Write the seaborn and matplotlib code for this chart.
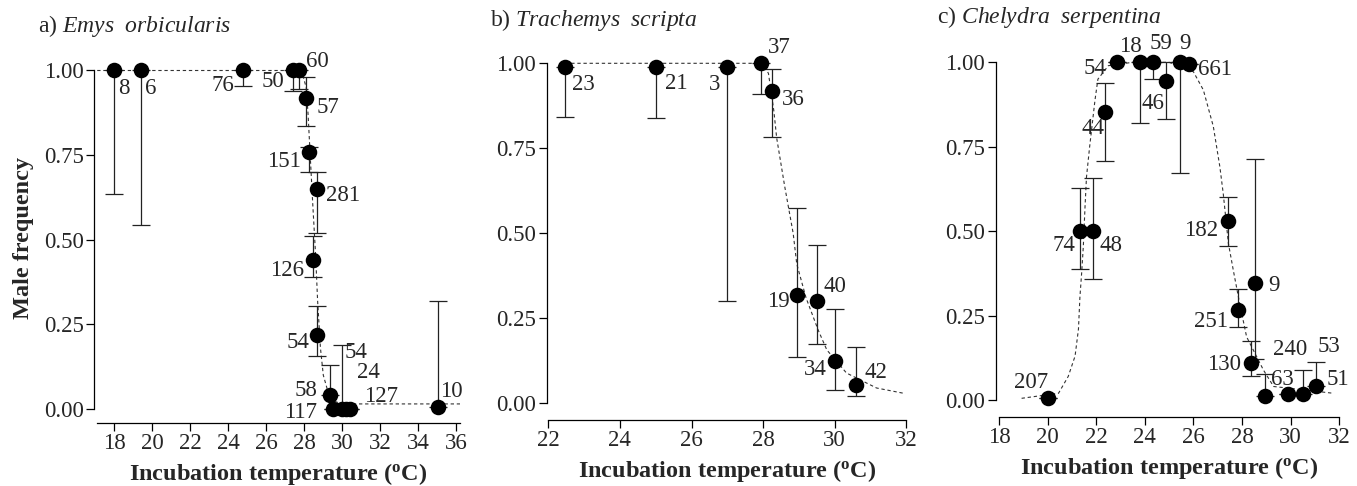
import matplotlib
matplotlib.use('Agg')
import matplotlib.pyplot as plt
import pandas as pd
import seaborn as sns

# ---- values ----
# a) Emys orbicularis
a_labels = ['8', '6', '76', '50', '60', '57', '151', '281', '126', '54', '58', '117', '54', '24', '127', '10']
a_temp = [18.0, 19.4, 24.8, 27.4, 27.7, 28.1, 28.25, 28.65, 28.45, 28.65, 29.35, 29.5, 30.0, 30.2, 30.4, 35.05]
a_freq = [1.0, 1.0, 1.0, 1.0, 1.0, 0.92, 0.76, 0.65, 0.44, 0.22, 0.04, 0.0, 0.0, 0.0, 0.0, 0.005]
a_low = [0.635, 0.545, 0.955, 0.94, 0.945, 0.835, 0.70, 0.52, 0.39, 0.157, 0.04, 0.0, 0.0, 0.0, 0.0, 0.005]
a_high = [1.0, 1.0, 1.0, 1.0, 1.0, 0.98, 0.775, 0.70, 0.51, 0.305, 0.13, 0.0, 0.19, 0.0, 0.0, 0.32]
a_curve_t = [17.1, 27.6, 27.9, 28.1, 28.2, 28.3, 28.45, 28.6, 28.7, 28.85, 29.0, 29.3, 29.7, 30.5, 36.2]
a_curve_f = [1.0, 1.0, 0.99, 0.95, 0.87, 0.76, 0.6, 0.45, 0.32, 0.18, 0.1, 0.04, 0.02, 0.015, 0.015]

# b) Trachemys scripta
b_labels = ['23', '21', '3', '37', '36', '19', '40', '34', '42']
b_temp = [22.47, 25.0, 27.0, 27.94, 28.24, 28.96, 29.5, 30.02, 30.6]
b_freq = [0.99, 0.99, 0.99, 1.0, 0.92, 0.32, 0.30, 0.125, 0.054]
b_low = [0.843, 0.838, 0.30, 0.91, 0.784, 0.135, 0.174, 0.039, 0.022]
b_high = [0.99, 0.99, 0.99, 1.0, 0.983, 0.574, 0.466, 0.277, 0.167]
b_curve_t = [22.47, 28.0, 28.15, 28.3, 28.38, 28.6, 28.84, 28.94, 29.2, 29.54, 29.78, 30.33, 31.17, 31.9]
b_curve_f = [1.0, 1.0, 0.97, 0.86, 0.78, 0.64, 0.5, 0.41, 0.31, 0.215, 0.157, 0.089, 0.045, 0.03]

# c) Chelydra serpentina
c_labels = ['207', '74', '48', '44', '54', '18', '59', '46', '9', '661', '182', '251', '9', '130', '63', '240', '53', '51']
c_temp = [20.0, 21.33, 21.88, 22.36, 22.84, 23.8, 24.35, 24.86, 25.45, 25.83, 27.41, 27.85, 28.54, 28.36, 28.95, 29.9, 30.5, 31.05]
c_freq = [0.007, 0.5, 0.5, 0.854, 1.0, 1.0, 1.0, 0.945, 1.0, 0.995, 0.53, 0.267, 0.345, 0.111, 0.013, 0.018, 0.018, 0.04]
c_low = [0.007, 0.387, 0.357, 0.708, 1.0, 0.82, 0.95, 0.832, 0.673, 0.995, 0.457, 0.217, 0.12, 0.07, 0.013, 0.018, 0.018, 0.04]
c_high = [0.007, 0.627, 0.656, 0.94, 1.0, 1.0, 1.0, 1.0, 1.0, 0.995, 0.602, 0.328, 0.714, 0.176, 0.078, 0.018, 0.09, 0.114]
c_curve_t = [18.93, 20.45, 20.85, 21.13, 21.27, 21.33, 21.4, 21.47, 21.54, 21.6, 21.73, 21.95, 22.07, 22.5,
             23.5, 25.0, 26.0, 26.41, 26.82, 27.09, 27.23, 27.44, 27.64, 27.9, 28.19, 28.88, 29.3, 31.75]
c_curve_f = [0.005, 0.02, 0.07, 0.13, 0.21, 0.305, 0.375, 0.455, 0.572, 0.66, 0.75, 0.888, 0.95, 0.99,
             1.0, 1.0, 0.972, 0.918, 0.81, 0.69, 0.61, 0.464, 0.385, 0.287, 0.187, 0.089, 0.04, 0.02]

# label placement: (ha, dx px, dy px down) relative to the point
a_offs = [('left', 4, 18), ('left', 4, 18), ('right', -9, 15), ('right', -9, 11), ('left', 7, -9),
          ('left', 10, 10), ('right', -8, 10), ('left', 9, 7), ('right', -9, 10), ('right', -7, 8),
          ('right', -13, -5), ('right', -16, 4), ('left', 2, -57), ('left', 11, -36), ('left', 14, -13),
          ('left', 2, -16)]
b_offs = [('left', 7, 18), ('left', 9, 17), ('right', -7, 18), ('left', 7, -16), ('left', 10, 9),
          ('right', -8, 7), ('left', 7, -15), ('right', -9, 9), ('left', 8, -12)]
c_offs = [('center', -17, -15), ('right', -5, 14), ('left', 6, 14), ('center', -12, 17), ('right', -10, 6),
          ('center', -10, -16), ('center', 8, -19), ('center', -13, 23), ('center', 5, -19), ('left', 9, 6),
          ('right', -9, 9), ('right', -10, 12), ('left', 13, 2), ('right', -10, 2), ('center', 17, -16),
          ('center', 2, -44), ('center', 26, -47), ('left', 10, -7)]

sns.set_style('ticks')
plt.rcParams['font.family'] = ['Liberation Serif', 'DejaVu Serif']
plt.rcParams['mathtext.fontset'] = 'custom'
plt.rcParams['mathtext.rm'] = 'Liberation Serif'
plt.rcParams['mathtext.it'] = 'Liberation Serif:italic'
plt.rcParams['mathtext.bf'] = 'Liberation Serif:bold'

W, H = 1357, 486
fig = plt.figure(figsize=(W / 100, H / 100), dpi=100)
YLIM = (-0.03, 1.04)


def make_axes(x0, x1, y1, y0):
    # x0/x1: pixel of the x limits ; y1/y0: pixel of 1.00 / 0.00
    ppu = (y0 - y1)
    top = y1 - (YLIM[1] - 1) * ppu
    bot = y0 - YLIM[0] * ppu
    return fig.add_axes([x0 / W, (H - bot) / H, (x1 - x0) / W, (bot - top) / H])


def draw_panel(ax, temp, freq, low, high, labels, offs, ct, cf, xlim, xticks, out_l, out_b):
    df = pd.DataFrame({'temp': temp, 'freq': freq, 'low': low, 'high': high})
    curve = pd.DataFrame({'temp': ct, 'freq': cf})
    sns.lineplot(data=curve, x='temp', y='freq', ax=ax, sort=False, estimator=None,
                 color='#333333', lw=0.8, linestyle=(0, (3, 2.5)), zorder=1)
    ax.errorbar(df['temp'], df['freq'], yerr=[df['freq'] - df['low'], df['high'] - df['freq']],
                fmt='none', ecolor='#222222', elinewidth=0.9, capsize=6.5, capthick=0.9, zorder=2)
    sns.scatterplot(data=df, x='temp', y='freq', ax=ax, s=125, color='black',
                    edgecolor='black', linewidth=0, zorder=3, clip_on=False)
    for t, f, lab, (ha, dx, dy) in zip(temp, freq, labels, offs):
        ax.annotate(lab, (t, f), xytext=(dx * 0.72, -dy * 0.72), textcoords='offset points',
                    ha=ha, va='center', fontsize=16.5)
    ax.set_xlim(*xlim)
    ax.set_ylim(*YLIM)
    ax.set_xticks(xticks)
    ax.set_yticks([0, 0.25, 0.5, 0.75, 1.0])
    ax.set_yticklabels(['0.00', '0.25', '0.50', '0.75', '1.00'])
    ax.tick_params(direction='out', length=5.5, width=0.9, labelsize=16.5, pad=2, color='black')
    for s in ['top', 'right']:
        ax.spines[s].set_visible(False)
    ax.spines['left'].set_position(('outward', out_l))
    ax.spines['bottom'].set_position(('outward', out_b))
    ax.spines['left'].set_bounds(0, 1)
    for s in ['left', 'bottom']:
        ax.spines[s].set_linewidth(0.9)
        ax.spines[s].set_color('black')
    ax.set_xlabel(r'Incubation temperature ($^{\mathbf{o}}$C)', fontsize=17.5,
                  fontweight='bold', labelpad=5)
    ax.set_ylabel('')


ax_a = make_axes(97.2, 460.1, 70.5, 409)
ax_b = make_axes(548.3, 906.3, 63.3, 403.3)
ax_c = make_axes(999, 1339.2, 62.3, 400)

draw_panel(ax_a, a_temp, a_freq, a_low, a_high, a_labels, a_offs, a_curve_t, a_curve_f,
           (17.1, 36.2), list(range(18, 37, 2)), 2.3, 2.7)
draw_panel(ax_b, b_temp, b_freq, b_low, b_high, b_labels, b_offs, b_curve_t, b_curve_f,
           (22, 32), list(range(22, 33, 2)), 1.2, 4.7)
draw_panel(ax_c, c_temp, c_freq, c_low, c_high, c_labels, c_offs, c_curve_t, c_curve_f,
           (18, 32), list(range(18, 33, 2)), 2.4, 4.7)

ax_a.set_ylabel('Male frequency', fontsize=17.5, fontweight='bold', labelpad=7)

fig.text(38 / W, 1 - 32 / H, r'a) $\mathit{Emys\ \ orbicularis}$', fontsize=17, va='baseline')
fig.text(490 / W, 1 - 26 / H, r'b) $\mathit{Trachemys\ \ scripta}$', fontsize=17, va='baseline')
fig.text(937 / W, 1 - 23 / H, r'c) $\mathit{Chelydra\ \ serpentina}$', fontsize=17, va='baseline')

fig.savefig('out.png', dpi=100)
